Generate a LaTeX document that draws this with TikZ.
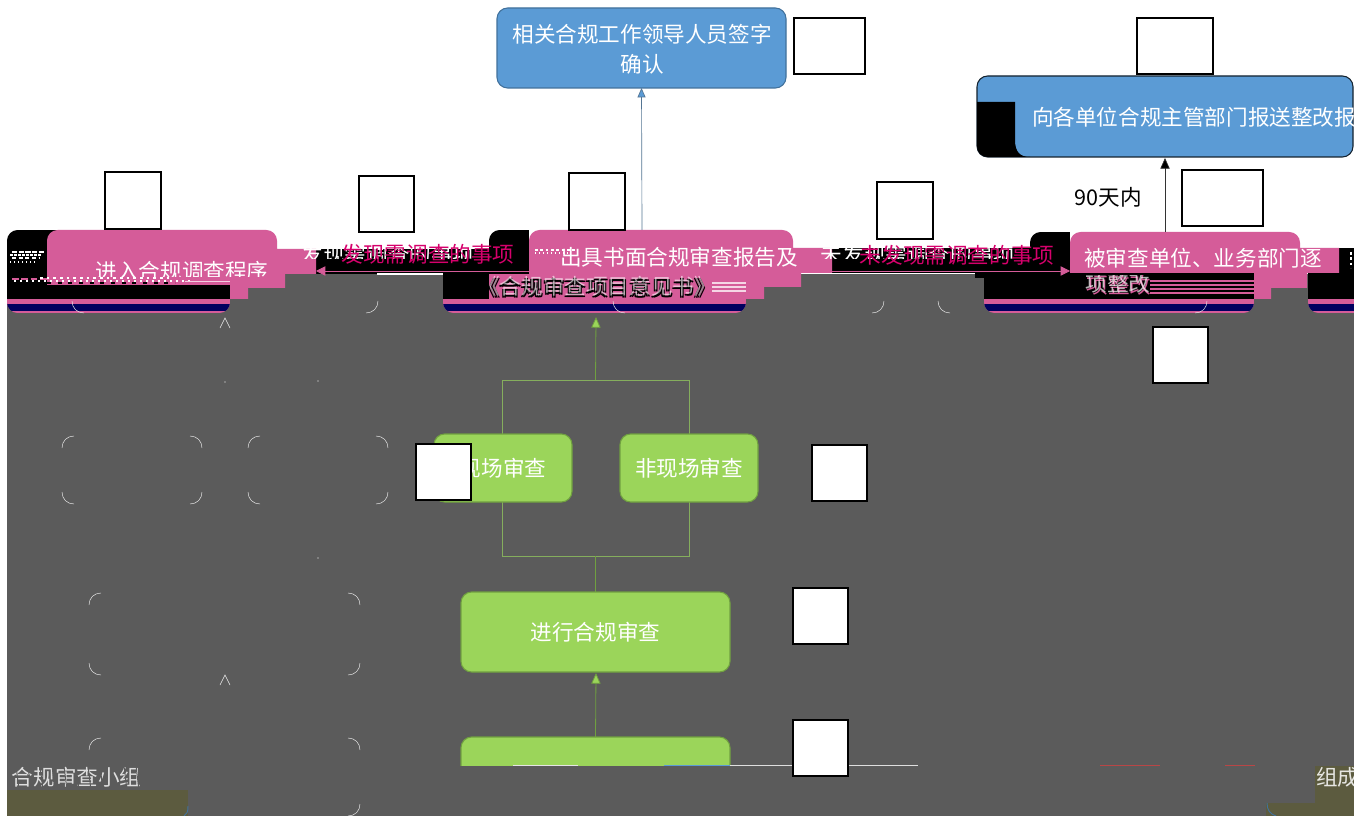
\documentclass[tikz,border=0pt]{standalone}
\usepackage{fontspec}
\setmainfont{Noto Sans CJK SC}
\usetikzlibrary{arrows.meta}
\definecolor{grayc}{HTML}{5B5B5B}
\definecolor{pinkc}{HTML}{D55C99}
\definecolor{navyc}{HTML}{00005F}
\definecolor{bluec}{HTML}{5B9BD5}
\definecolor{blueb}{HTML}{41719C}
\definecolor{greenc}{HTML}{9BD55A}
\definecolor{greenb}{HTML}{70A040}
\definecolor{magc}{HTML}{D6006C}
\definecolor{olivec}{HTML}{5C5B3F}
\tikzset{
  x=0.75pt,y=-0.75pt,
  every node/.style={outer sep=0pt},
  txt/.style={font=\fontsize{16.2}{22.5}\selectfont,inner sep=0pt,text=white},
  bluebox/.style={draw=blueb,fill=bluec,line width=0.8pt,rounded corners=8pt,inner sep=0pt},
  greenbox/.style={draw=greenb,fill=greenc,line width=0.8pt,rounded corners=8pt,inner sep=0pt},
  blank/.style={draw=black,fill=white,line width=1.6pt,inner sep=0pt},
  ghostline/.style={draw=white!85!gray,line width=0.35pt},
  noise/.style={draw=white,line width=0.8pt},
}
% white empty label box, given by corners
\newcommand{\blankbox}[5]{\node[blank,anchor=north west,minimum width=#4*0.75pt-#2*0.75pt,minimum height=#5*0.75pt-#3*0.75pt] (#1) at (#2,#3) {};}
\newcommand{\ghost}[4]{\path[ghostline]
  (#1,#2+12) .. controls (#1,#2+5) and (#1+5,#2) .. (#1+12,#2)
  (#3-12,#2) .. controls (#3-5,#2) and (#3,#2+5) .. (#3,#2+12)
  (#1,#4-12) .. controls (#1,#4-5) and (#1+5,#4) .. (#1+12,#4)
  (#3-12,#4) .. controls (#3-5,#4) and (#3,#4-5) .. (#3,#4-12);}
\newcommand{\ghostlow}[3]{\path[ghostline]
  (#1,#3-12) .. controls (#1,#3-5) and (#1+5,#3) .. (#1+12,#3)
  (#2-12,#3) .. controls (#2-5,#3) and (#2,#3-5) .. (#2,#3-12);}
% lower part of a box: black block then pink and navy stripes, from y=#3 down
\newcommand{\stripes}[3]{%
  \begin{scope}
    \clip (#1,#3) rectangle (#2,313);
    \clip[rounded corners=8pt] (#1,200) rectangle (#2,313);
    \fill[black] (#1,#3) rectangle (#2,299);
    \fill[pinkc] (#1,299) rectangle (#2,313);
    \fill[navyc] (#1,304) rectangle (#2,311);
  \end{scope}}
\begin{document}
\begin{tikzpicture}
\useasboundingbox (0,0) rectangle (1370,816);
\fill[white] (0,0) rectangle (1370,816);
% grey field
\fill[grayc] (7,274) rectangle (1354,816);

% ---- black bands between the upper boxes
\fill[black] (316,249) rectangle (529,274);
\fill[black] (832,248) rectangle (1070,273);
\fill[black] (1339,248) rectangle (1354,273);

% ---- column 1
\begin{scope}
  \clip[rounded corners=8pt] (7,230) rectangle (230,313);
  \fill[black] (7,230) rectangle (230,299);
  \fill[pinkc] (7,299) rectangle (230,313);
  \fill[navyc] (7,304) rectangle (230,311);
\end{scope}
\fill[pinkc] (47,285) [rounded corners=8pt] -- (47,230) -- (277,230) [sharp corners] -- (277,249) -- (316,249) -- (316,274) -- (285,274) -- (285,288) -- (248,288) -- (248,299) -- (230,299) -- (230,285) -- cycle;
\begin{scope}
  \clip (47,230) rectangle (280,276.5);
  \node[txt] (enter) at (182,271) {进入合规调查程序};
\end{scope}
\draw[noise,dash pattern=on 4pt off 1pt] (12,252) -- (45,252);
\draw[noise,dash pattern=on 2pt off 1pt] (10,255) -- (42,255);
\draw[noise,dash pattern=on 3pt off 2pt] (12,258) -- (40,258);
\draw[noise,dash pattern=on 1pt off 2pt] (10,262) -- (36,262);
\draw[pinkc,line width=2pt,dash pattern=on 5pt off 2pt] (12,279) -- (47,279);
\draw[noise,dash pattern=on 2pt off 3pt] (40,278) -- (170,278);
\draw[noise,dash pattern=on 1.5pt off 3pt] (14,281) -- (190,281);
\draw[black,line width=1pt,dash pattern=on 3pt off 5pt] (47,283) -- (175,283);
\draw[white!70!pinkc,line width=0.6pt] (185,281) -- (230,281);

% ---- column 2
\stripes{443}{746}{274}
\fill[pinkc] (489,274) rectangle (746,299);
\begin{scope}
  \clip[rounded corners=8pt] (489,230) rectangle (540,290);
  \fill[black] (489,230) rectangle (529,274);
\end{scope}
\fill[pinkc] (529,274) [rounded corners=8pt] -- (529,230) -- (793,230) [sharp corners] -- (793,248) -- (832,248) -- (832,273) -- (801,273) -- (801,287) -- (764,287) -- (764,299) -- (746,299) -- (746,274) -- cycle;
\node[txt] (report) at (679,257) {出具书面合规审查报告及};
\begin{scope}
  \clip (486,276) rectangle (710,298);
  \node[txt,text=black] (opinionb) at (598,288) {《合规审查项目意见书》};
  \node[txt,text=black] (opinionc) at (596,288) {《合规审查项目意见书》};
  \node[txt,text=white,opacity=0.6] (opinionw) at (597,286) {《合规审查项目意见书》};
\end{scope}
\foreach \yy in {283,287,291}
  \draw[white!75!pinkc,line width=0.8pt] (712,\yy) -- (746,\yy);
\draw[noise,dash pattern=on 2pt off 2pt] (535,250) -- (575,250);
\draw[noise,dash pattern=on 1pt off 2pt] (535,253) -- (570,253);

% ---- column 3
\stripes{984}{1254}{273}
\begin{scope}
  \clip[rounded corners=8pt] (1030,232) rectangle (1090,290);
  \fill[black] (1030,232) rectangle (1070,273);
\end{scope}
\fill[pinkc] (1070,273) [rounded corners=8pt] -- (1070,232) -- (1300,232) [sharp corners] -- (1300,248) -- (1339,248) -- (1339,273) -- (1307,273) -- (1307,288) -- (1271,288) -- (1271,299) -- (1254,299) -- (1254,273) -- cycle;
\node[txt] (dept) at (1203,258) {被审查单位、业务部门逐};
\begin{scope}
  \clip (1085,276) rectangle (1152,298);
  \node[txt,text=pinkc] (reformb) at (1119,285) {项整改};
  \node[txt,text=white,opacity=0.7] (reformw) at (1118,283) {项整改};
\end{scope}
\foreach \yy in {281,285,289,293}
  \draw[pinkc,line width=1.4pt] (1150,\yy) -- (1254,\yy);
\fill[black] (975,273) rectangle (984,278);
\draw[noise,dash pattern=on 2pt off 2pt] (1351,252) -- (1351,268);

% ---- right cut-off column
\begin{scope}
  \clip (1308,273) rectangle (1354,313);
  \clip[rounded corners=8pt] (1308,230) rectangle (1400,313);
  \fill[black] (1308,273) rectangle (1354,299);
  \fill[pinkc] (1308,299) rectangle (1354,313);
  \fill[navyc] (1308,304) rectangle (1354,311);
\end{scope}

% ---- offset band labels
\begin{scope}
  \clip (300,240) rectangle (520,259);
  \node[txt,text=white] (foundw) at (388,254) {发现需调查的事项};
\end{scope}
\node[txt,text=magc] (foundm) at (428,254) {发现需调查的事项};
\begin{scope}
  \clip (820,240) rectangle (1060,259);
  \node[txt,text=white] (nfoundw) at (918,254) {未发现需调查的事项};
\end{scope}
\node[txt,text=magc] (nfoundm) at (957,255) {未发现需调查的事项};
\coordinate (bandA) at (529,271);
\coordinate (bandAend) at (316,271);
\coordinate (bandB) at (1070,271);
\coordinate (bandBs) at (832,271);
\draw[pinkc,line width=0.6pt,-{Triangle[length=7pt,width=7pt]}] (bandA) -- (bandAend);
\draw[pinkc,line width=0.6pt,-{Triangle[length=7pt,width=7pt]}] (bandBs) -- (bandB);
\draw[white,line width=0.8pt] (377,274) -- (443,274);

% ---- top blue boxes
\node[bluebox,anchor=north west,minimum width=216.75pt,minimum height=60pt] (sign) at (497,8) {};
\node[txt,align=center] (signt) at (642,49) {相关合规工作领导人员签字\\确认};
\coordinate (signstart) at (642,230);
\draw[blueb!70!gray,line width=0.5pt,-{Triangle[length=7pt,width=6pt,fill=bluec]}] (signstart) -- (sign.south);

\begin{scope}
  \clip (970,70) rectangle (1353.5,160);
  \node[bluebox,anchor=north west,minimum width=282pt,minimum height=60.75pt,draw=black!70!blueb] (toreport) at (977,76) {};
  \begin{scope}
    \clip[rounded corners=8pt] (977,76) rectangle (1353,157);
    \fill[black] (977,102) -- (1015,102) -- (1015,140) .. controls (1015,152) and (1020,157) .. (1030,157) -- (977,157) -- cycle;
  \end{scope}
  \node[txt,anchor=west] (tr) at (1032,117) {向各单位合规主管部门报送整改报};
\end{scope}
\coordinate (toreportstart) at (1165,232);
\coordinate (toreportend) at (1165,158);
\draw[black!80,line width=0.5pt,-{Triangle[length=8pt,width=7pt,fill=black]}] (toreportstart) -- (toreportend);
\node[txt,text=black] (days) at (1108,197) {90天内};

% ---- green part
\node[draw=greenb!85!white,line width=0.5pt,anchor=north west,minimum width=140.25pt,minimum height=132pt,inner sep=0pt] (frame) at (502,380) {};
\node[greenbox,anchor=north west,minimum width=103.5pt,minimum height=51pt] (site) at (434,434) {};
\node[txt] (sitet) at (503,468) {现场审查};
\node[greenbox,anchor=north west,minimum width=103.5pt,minimum height=51pt] (nonsite) at (620,434) {};
\node[txt] (nonsitet) at (689,468) {非现场审查};
\node[greenbox,anchor=north west,minimum width=201.75pt,minimum height=60pt] (audit) at (461,592) {};
\node[txt] (auditt) at (595.5,632) {进行合规审查};
\begin{scope}
  \clip (450,730) rectangle (740,765);
  \node[greenbox,anchor=north west,minimum width=201.75pt,minimum height=60pt] (start) at (461,737) {};
\end{scope}
\coordinate (reportbottom) at (596,317);
\draw[greenb,line width=0.6pt,-{Triangle[length=8pt,width=7pt,fill=greenc]}] (frame.north) -- (reportbottom);
\draw[greenb,line width=0.6pt] (audit.north) -- (frame.south);
\coordinate (auditbottom) at (596,673);
\draw[greenb,line width=0.6pt,-{Triangle[length=8pt,width=7pt,fill=greenc]}] (start.north) -- (auditbottom);

% ---- thin remnants along the lower cut
\draw[white!75!gray,line width=0.5pt] (730,765) -- (918,765);
\draw[white!80!gray,line width=0.5pt] (513,765) -- (578,765);
\draw[bluec,line width=0.5pt] (664,765) -- (730,765);
\draw[red!45!gray,line width=0.4pt] (1100,765) -- (1160,765);
\draw[red!45!gray,line width=0.4pt] (1225,765) -- (1255,765);

% ---- ghost corners
\ghost{62}{436}{202}{504}
\ghost{248}{436}{388}{504}
\ghost{89}{593}{360}{675}
\ghost{89}{738}{360}{816}
\ghostlow{72}{378}{313}
\ghostlow{613}{884}{313}
\ghostlow{938}{1207}{313}
\draw[ghostline] (220,328) -- (225,318) -- (230,328);
\draw[ghostline] (220,685) -- (225,675) -- (230,685);
\fill[white] (225,382) circle[radius=0.7];
\fill[white] (318,381) circle[radius=0.7];
\fill[white] (318,558) circle[radius=0.7];

% ---- bottom corners
\fill[olivec] (7,790) rectangle (188,816);
\draw[blueb,line width=0.7pt] (188,806) .. controls (188,812) and (187,814) .. (184,816);
\node[txt,anchor=west,opacity=0.8] (team) at (12,777) {合规审查小组};
\foreach \xx in {16,28,40,52,64,76,88,100,112,124,136}
  \draw[grayc,line width=0.7pt] (\xx,766) -- (\xx+3,790);
\fill[olivec] (1266,803) rectangle (1354,816);
\fill[olivec] (1315,766) rectangle (1354,803);
\draw[blueb,line width=0.7pt] (1267,803) .. controls (1267,810) and (1270,814) .. (1276,816);
\begin{scope}
  \clip (1315,766) rectangle (1354,790);
  \node[txt,anchor=west,opacity=0.85] (teamr) at (1316,777) {组成};
\end{scope}

% ---- empty white label boxes
\blankbox{b1}{794}{18}{865}{74}
\blankbox{b2}{1137}{18}{1213}{74}
\blankbox{b3}{105}{172}{161}{229}
\blankbox{b4}{359}{176}{414}{232}
\blankbox{b5}{569}{173}{625}{230}
\blankbox{b6}{877}{182}{933}{239}
\blankbox{b7}{1182}{170}{1263}{226}
\blankbox{b8}{1153}{327}{1208}{383}
\blankbox{b9}{416}{444}{471}{500}
\blankbox{b10}{812}{445}{867}{501}
\blankbox{b11}{793}{588}{848}{644}
\blankbox{b12}{793}{720}{848}{776}
\end{tikzpicture}
\end{document}
